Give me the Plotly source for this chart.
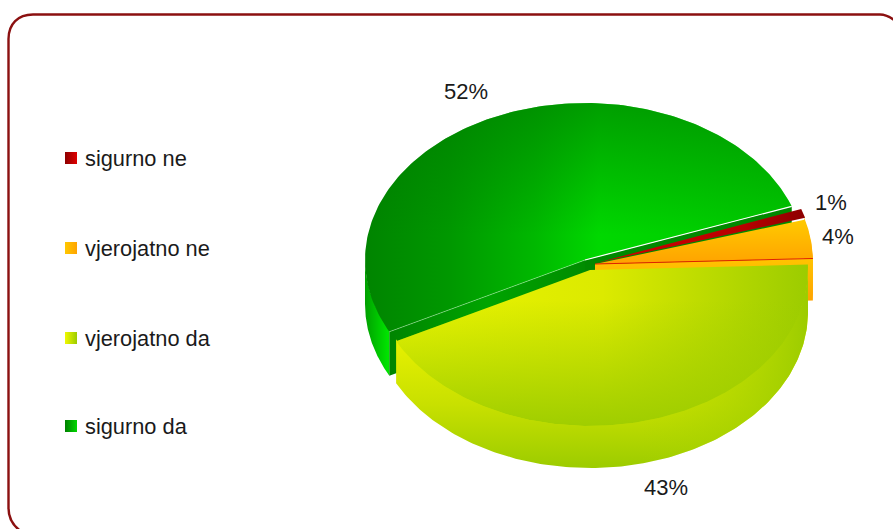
import numpy as np
import plotly.graph_objects as go

categories = ["sigurno ne", "vjerojatno ne", "vjerojatno da", "sigurno da"]
values = [1, 4, 43, 52]

W, H = 893, 529
START = 20.0
# slice geometry: centre x, centre y, radius x, radius y, depth
GEOM = {
    "sigurno ne": (596, 263, 218, 160, 0),
    "vjerojatno ne": (595, 264, 218, 158, 42),
    "vjerojatno da": (590, 270, 218, 156, 42),
    "sigurno da": (585, 260, 220, 157, 44),
}
angles = {}
a = -START
for c, v in zip(categories, values):
    angles[c] = (a, a + v * 3.6)
    a += v * 3.6


def rim(cat, t0, t1, dz=0):
    cx, cy, rx, ry, _ = GEOM[cat]
    t = np.radians(np.linspace(t0, t1, 160))
    return cx + rx * np.cos(t), cy + ry * np.sin(t) + dz


def top(cat):
    cx, cy, *_ = GEOM[cat]
    x, y = rim(cat, *angles[cat])
    return np.r_[cx, x, cx], np.r_[cy, y, cy]


def wall(cat, t0, t1):
    d = GEOM[cat][4]
    x, y = rim(cat, t0, t1, -2)
    x2, y2 = rim(cat, t0, t1, d)
    return np.r_[x, x2[::-1], x[0]], np.r_[y, y2[::-1], y[0]]


def cut(cat, t):
    cx, cy, _, _, d = GEOM[cat]
    x, y = rim(cat, t, t)
    return [cx, x[0], x[0], cx, cx], [cy, y[0], y[0] + d, cy + d, cy]


def poly(x, y, typ, scale, start=None, stop=None):
    fig.add_trace(go.Scatter(
        x=x, y=y, mode="lines", line=dict(width=0), fill="toself",
        fillgradient=dict(type=typ, colorscale=scale, start=start, stop=stop),
        hoverinfo="skip", showlegend=False))


def edge(cat, t, color, width=1):
    cx, cy, *_ = GEOM[cat]
    x, y = rim(cat, t, t)
    fig.add_trace(go.Scatter(x=[cx, x[0]], y=[cy, y[0]], mode="lines",
                             line=dict(color=color, width=width),
                             hoverinfo="skip", showlegend=False))


fig = go.Figure()

# sigurno da
g0, g1 = angles["sigurno da"]
poly(*wall("sigurno da", g0, 180), "horizontal",
     [[0, "#00a000"], [1, "#00f000"]], 365, 392)
poly(*cut("sigurno da", g0), "horizontal",
     [[0, "#008400"], [0.5, "#00a400"], [1, "#008c00"]], 389, 585)
poly(*cut("sigurno da", g1), "horizontal",
     [[0, "#008800"], [1, "#008800"]], 585, 792)
poly(*top("sigurno da"), "horizontal",
     [[0, "#008400"], [0.2, "#009800"], [0.4, "#00b800"], [0.55, "#00d800"], [1, "#00c800"]], 365, 790)
poly(*top("sigurno da"), "vertical",
     [[0, "rgba(0,120,0,0.6)"], [1, "rgba(0,120,0,0)"]], 103, 235)
edge("sigurno da", g0, "rgba(210,255,210,0.6)", 0.7)
edge("sigurno da", g1, "#ffffff", 1.2)

# sigurno ne
poly(*top("sigurno ne"), "horizontal",
     [[0, "#d00000"], [0.7, "#b80000"], [1, "#8c0000"]], 596, 806)

# vjerojatno ne
o0, o1 = angles["vjerojatno ne"]
poly(*wall("vjerojatno ne", o0, o1), "vertical",
     [[0, "#ffc000"], [1, "#ff9a00"]], 220, 305)
poly(*cut("vjerojatno ne", o1), "vertical",
     [[0, "#ffc400"], [1, "#ffa000"]], 259, 305)
poly(*top("vjerojatno ne"), "vertical",
     [[0, "#ffc800"], [1, "#ffa400"]], 222, 262)
edge("vjerojatno ne", o1, "#e02000", 1)

# vjerojatno da
y0, y1 = angles["vjerojatno da"]
poly(*wall("vjerojatno da", y0, y1), "vertical",
     [[0, "#e6f000"], [0.5, "#c8e000"], [1, "#9ccc00"]], 342, 468)
poly(*wall("vjerojatno da", y0, y1), "horizontal",
     [[0, "rgba(170,212,0,0)"], [1, "rgba(156,204,0,1)"]], 640, 808)
poly(*top("vjerojatno da"), "horizontal",
     [[0, "#eaf400"], [0.5, "#dcea00"], [1, "#9ccc00"]], 397, 808)
poly(*top("vjerojatno da"), "vertical",
     [[0, "rgba(156,204,0,0)"], [0.22, "rgba(156,204,0,0)"], [1, "rgba(156,204,0,0.95)"]], 265, 426)

# legend entries
marker_fill = {
    "sigurno ne": ("#8c0000", "#e00000"),
    "vjerojatno ne": ("#ffc800", "#ffa400"),
    "vjerojatno da": ("#f0f800", "#9ccc00"),
    "sigurno da": ("#008000", "#00d800"),
}
LEGEND_Y = dict(zip(categories, [158, 248, 338, 426]))
for c in categories:
    fig.add_trace(go.Scatter(
        x=[71], y=[LEGEND_Y[c]], mode="markers", name=c, showlegend=False,
        hovertemplate=c + "<extra></extra>",
        marker=dict(symbol="square", size=12, color=marker_fill[c][0],
                    line=dict(width=0),
                    gradient=dict(type="horizontal", color=marker_fill[c][1]))))
    fig.add_annotation(x=85, y=LEGEND_Y[c], xanchor="left", text=c, showarrow=False,
                       xshift=-2,
                       font=dict(family="Liberation Sans", size=21.8, color="#1a1a1a"))

LABEL_POS = {
    "sigurno ne": (830.5, 202),
    "vjerojatno ne": (838, 236),
    "vjerojatno da": (666, 487),
    "sigurno da": (466, 91),
}
for c, v in zip(categories, values):
    lx, ly = LABEL_POS[c]
    fig.add_annotation(x=lx, y=ly, text=f"{v}%", showarrow=False,
                       font=dict(family="Liberation Sans", size=22, color="#1a1a1a"))

fig.add_shape(type="path", layer="below",
              path=("M 894 20 C 890 17 886 14.5 880 14.5 L 33 14.5 C 18 14.5 8.5 24 8.5 39 "
                    "L 8.5 508 C 8.5 518 13 526 22 532"),
              line=dict(color="#8b1010", width=2.4))

fig.update_layout(
    width=W, height=H, margin=dict(l=0, r=0, t=0, b=0),
    paper_bgcolor="#ffffff", plot_bgcolor="#ffffff", showlegend=False,
    xaxis=dict(range=[0, W], visible=False, fixedrange=True),
    yaxis=dict(range=[H, 0], visible=False, fixedrange=True),
)
fig.write_html("out.html", config=dict(displayModeBar=False),
               post_script="document.body.style.margin='0';document.documentElement.style.overflow='hidden';")
